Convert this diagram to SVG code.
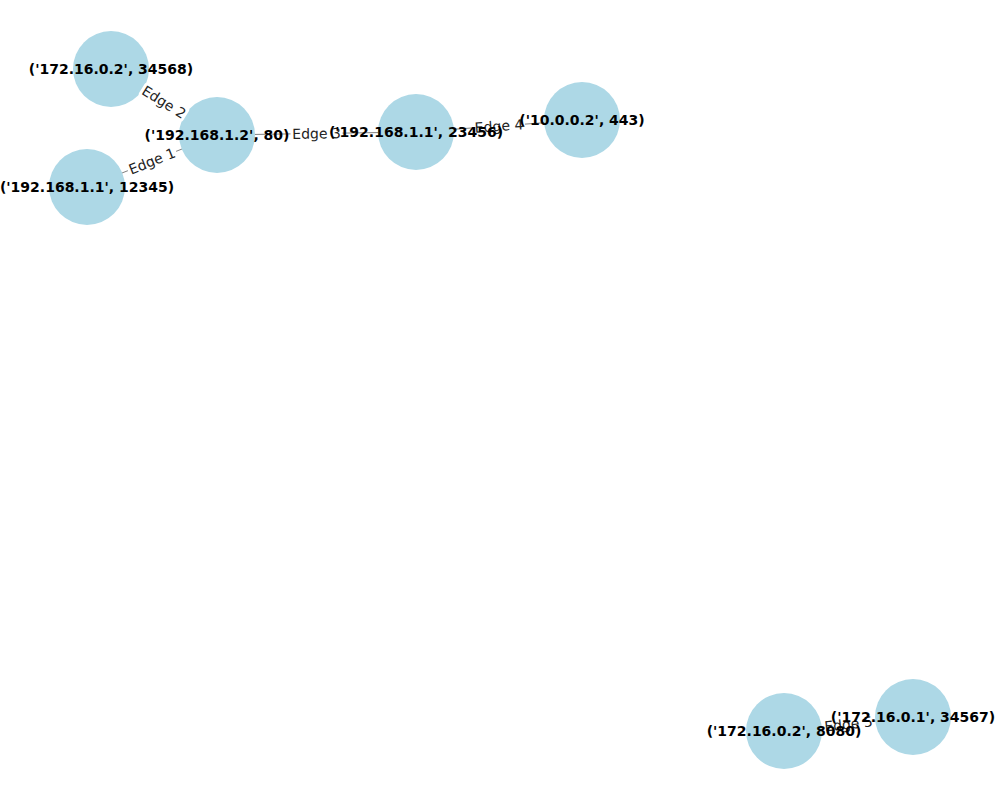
<svg xmlns="http://www.w3.org/2000/svg" width="1000" height="800" viewBox="0 0 1000 800">
<style>
.edge{stroke:#808080;stroke-width:1}
.node{fill:#add8e6}
.nl{font-family:"DejaVu Sans",sans-serif;font-size:14px;font-weight:bold;fill:#000;text-anchor:middle;dominant-baseline:central}
.el{font-family:"DejaVu Sans",sans-serif;font-size:14px;fill:#222;text-anchor:middle;dominant-baseline:central}
.lb{fill:#fff}
</style>
<rect width="1000" height="800" fill="#fff"/>
<g id="edges">
<line class="edge" x1="87" y1="187" x2="217" y2="135"/>
<line class="edge" x1="111" y1="69" x2="217" y2="135"/>
<line class="edge" x1="217" y1="135" x2="416" y2="132"/>
<line class="edge" x1="416" y1="132" x2="582" y2="120"/>
<line class="edge" x1="784" y1="731" x2="913" y2="717"/>
</g>
<g id="n1"><circle class="node" cx="111" cy="69" r="38"/></g>
<g id="n2"><circle class="node" cx="217" cy="135" r="38"/></g>
<g id="n3"><circle class="node" cx="87" cy="187" r="38"/></g>
<g id="n4"><circle class="node" cx="416" cy="132" r="38"/></g>
<g id="n5"><circle class="node" cx="582" cy="120" r="38"/></g>
<g id="n6"><circle class="node" cx="784" cy="731" r="38"/></g>
<g id="n7"><circle class="node" cx="913" cy="717" r="38"/></g>
<g id="edge-labels">
<g transform="translate(152,161) rotate(-21.8)"><rect class="lb" x="-26" y="-8" width="52" height="16" rx="3"/><text class="el">Edge 1</text></g>
<g transform="translate(164,102) rotate(31.9)"><rect class="lb" x="-26" y="-8" width="52" height="16" rx="3"/><text class="el">Edge 2</text></g>
<g transform="translate(316.5,133.5) rotate(-0.9)"><rect class="lb" x="-26" y="-8" width="52" height="16" rx="3"/><text class="el">Edge 3</text></g>
<g transform="translate(499,126) rotate(-4.1)"><rect class="lb" x="-26" y="-8" width="52" height="16" rx="3"/><text class="el">Edge 4</text></g>
<g transform="translate(848.5,724) rotate(-6.2)"><rect class="lb" x="-26" y="-8" width="52" height="16" rx="3"/><text class="el">Edge 5</text></g>
</g>
<g id="node-labels">
<text class="nl" x="111" y="69">('172.16.0.2', 34568)</text>
<text class="nl" x="217" y="135">('192.168.1.2', 80)</text>
<text class="nl" x="87" y="187">('192.168.1.1', 12345)</text>
<text class="nl" x="416" y="132">('192.168.1.1', 23456)</text>
<text class="nl" x="582" y="120">('10.0.0.2', 443)</text>
<text class="nl" x="784" y="731">('172.16.0.2', 8080)</text>
<text class="nl" x="913" y="717">('172.16.0.1', 34567)</text>
</g>
</svg>
